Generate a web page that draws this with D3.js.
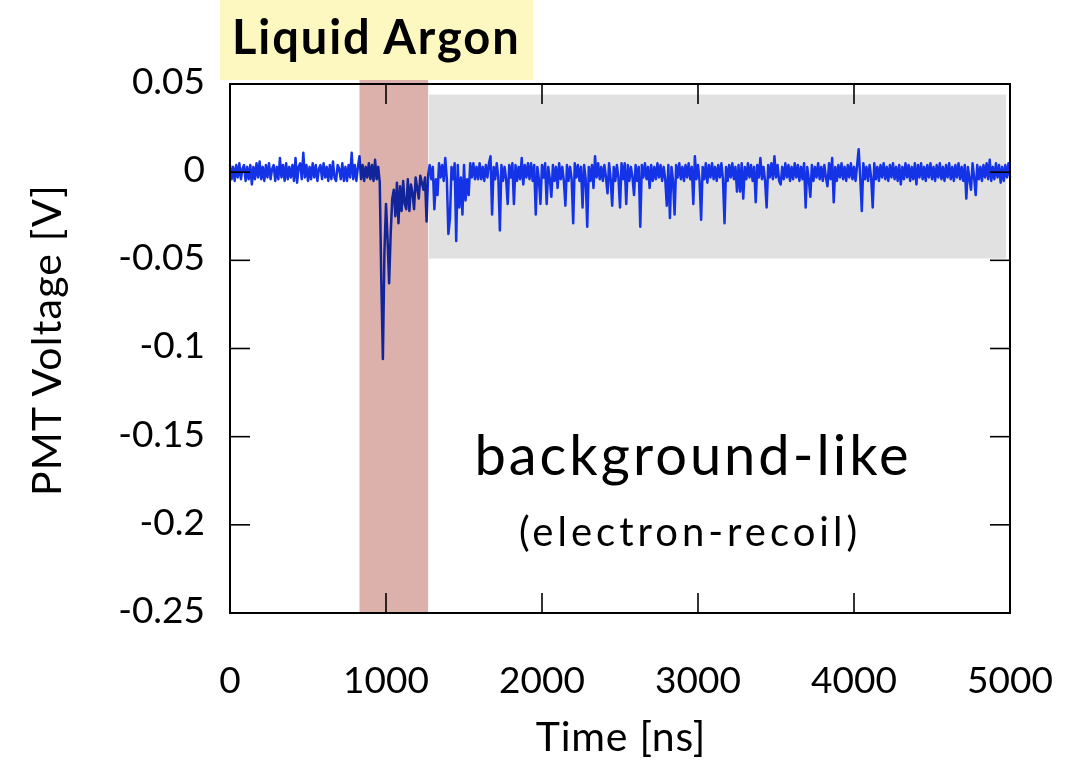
<!DOCTYPE html>
<html>
<head>
<meta charset="utf-8">
<script src="https://cdn.jsdelivr.net/npm/d3@7"></script>
<style>
  html, body { margin: 0; padding: 0; background: #fff; }
  svg { display: block; font-family: Lato, "Open Sans", "DejaVu Sans", sans-serif; }
</style>
</head>
<body>
<svg id="chart" width="1088" height="761"></svg>
<script>
// PMT waveform: one sample every 10 ns, amplitude in millivolts
const sampleStepNs = 10;
const voltageMv = [
  4,-4,3,-5,4,-3,5,-4,2,4,-5,3,-4,4,-7,3,-4,5,-3,6,
  -4,3,-5,4,-3,5,-4,2,4,-5,3,-4,8,-3,4,-5,5,-4,3,-3,
  4,-5,8,-6,3,5,-4,11,-3,4,-5,3,-4,5,-3,4,-5,2,4,-4,
  5,-3,3,-5,4,-4,6,-3,-5,4,2,-4,5,-5,3,-5,4,-3,11,-4,
  4,-5,3,9,-4,4,-5,3,-3,5,-4,4,-5,7,-4,3,-6,-62,-106,-45,
  -18,-38,-63,-35,-15,-10,-25,-6,-29,-8,-22,-5,-18,-21,-4,-22,-7,-12,-21,-3,
  -9,-15,-2,-6,-10,-3,-28,-2,4,-4,3,-21,-4,-13,5,-3,4,-5,8,-4,
  -35,-26,3,-4,5,-39,4,-20,-3,-24,4,-16,-4,-13,5,-3,5,-4,3,-4,
  5,-4,3,-5,4,-3,5,9,-24,3,-4,5,-3,-33,4,-5,3,-4,-18,4,
  -3,5,-18,4,-5,3,-4,8,-7,4,-3,5,-4,5,-5,4,-24,3,-4,-18,
  4,-3,5,-18,3,-4,-14,4,-5,3,-9,5,-4,3,-5,-19,4,-5,3,-4,
  -29,5,-3,4,-5,3,-20,4,-4,-31,3,-5,4,-9,9,-3,5,-4,3,-5,
  4,-3,-12,5,-4,-19,3,-5,4,-3,-20,5,-4,5,-18,4,-5,3,-3,-13,
  4,-5,3,-31,4,-3,5,-4,3,-9,4,-5,3,-4,5,-3,4,-5,3,-4,
  -19,4,-26,3,-5,-24,4,-3,5,-4,3,-5,4,-3,5,-4,3,-18,9,-4,
  4,-5,-27,3,-4,5,-6,4,-3,5,-4,3,-5,4,-3,5,-4,-29,3,-5,
  4,-3,5,-4,3,-11,4,-11,5,-15,3,-4,5,-3,4,-5,3,-17,4,-3,
  8,-4,3,-5,-20,4,-3,5,-4,9,-3,4,-5,-7,3,-4,5,-3,4,-5,
  3,-4,5,-3,4,-5,3,-4,5,-20,3,-4,-14,4,-5,3,-3,5,-4,3,
  -5,4,-3,-8,5,-4,8,-17,3,-5,4,-3,5,-4,3,-5,4,-3,5,-4,
  3,-5,4,13,-3,-22,5,-4,3,-5,4,-3,-20,5,-4,3,-5,4,-3,5,
  -4,3,-5,4,-3,5,-4,3,-5,4,-7,3,-4,5,-3,4,-5,3,-4,5,
  -7,4,-3,5,-4,3,-5,4,-3,5,-4,3,-5,4,-3,5,-4,3,-5,4,
  -3,5,-4,3,-5,4,-3,5,-4,3,-5,4,-15,3,-4,-10,5,-3,-13,4,
  -4,3,-5,4,-3,5,-4,7,-5,3,-4,5,-3,4,-6,3,-5,4,-3,5,
  -3
];

// Axis ticks (time in ns, voltage in mV) and their printed labels
const xTicks = [0, 1000, 2000, 3000, 4000, 5000];
const xTickLabels = ["0", "1000", "2000", "3000", "4000", "5000"];
const yTicks = [50, 0, -50, -100, -150, -200, -250];
const yTickLabels = ["0.05", "0", "-0.05", "-0.1", "-0.15", "-0.2", "-0.25"];

// Highlighted windows
const promptWindowNs = [830, 1270];
const lateWindowNs = [1275, 4975];
const lateWindowMv = [-49, 44];

const svg = d3.select("#chart");
const W = 1088, H = 761;
const plot = { left: 230, right: 1010, top: 84, bottom: 613 };

const x = d3.scaleLinear().domain([0, 5000]).range([plot.left, plot.right]);
const y = d3.scaleLinear().domain([-250, 50]).range([plot.bottom, plot.top]);

svg.append("rect").attr("width", W).attr("height", H).attr("fill", "#fff");

// late-light window (behind the trace)
svg.append("rect")
  .attr("x", x(lateWindowNs[0]))
  .attr("y", y(lateWindowMv[1]))
  .attr("width", x(lateWindowNs[1]) - x(lateWindowNs[0]))
  .attr("height", y(lateWindowMv[0]) - y(lateWindowMv[1]))
  .attr("fill", "#e1e1e1");

// waveform
const samples = voltageMv.map((v, i) => ({ t: i * sampleStepNs, v }));
const line = d3.line().x(d => x(d.t)).y(d => y(d.v));
svg.append("path")
  .datum(samples)
  .attr("d", line)
  .attr("fill", "none")
  .attr("stroke", "#1433e6")
  .attr("stroke-width", 2.5)
  .attr("stroke-linejoin", "round");

// frame
svg.append("rect")
  .attr("x", plot.left).attr("y", plot.top)
  .attr("width", plot.right - plot.left)
  .attr("height", plot.bottom - plot.top)
  .attr("fill", "none").attr("stroke", "#000").attr("stroke-width", 2);

// inward ticks on all four sides
const tickLen = 20;
const ticks = svg.append("g").attr("stroke", "#000").attr("stroke-width", 1.6);
xTicks.forEach(t => {
  ticks.append("line").attr("x1", x(t)).attr("x2", x(t)).attr("y1", plot.bottom).attr("y2", plot.bottom - tickLen);
  ticks.append("line").attr("x1", x(t)).attr("x2", x(t)).attr("y1", plot.top).attr("y2", plot.top + tickLen);
});
yTicks.forEach(v => {
  ticks.append("line").attr("x1", plot.left).attr("x2", plot.left + tickLen).attr("y1", y(v)).attr("y2", y(v));
  ticks.append("line").attr("x1", plot.right).attr("x2", plot.right - tickLen).attr("y1", y(v)).attr("y2", y(v));
});

// prompt window overlay
svg.append("rect")
  .attr("x", x(promptWindowNs[0]))
  .attr("y", 80)
  .attr("width", x(promptWindowNs[1]) - x(promptWindowNs[0]))
  .attr("height", plot.bottom - 80)
  .attr("fill", "#dcb1ab")
  .style("mix-blend-mode", "multiply");

// title box
svg.append("rect").attr("x", 220).attr("y", 0).attr("width", 313).attr("height", 80).attr("fill", "#fdf8c0");
svg.append("text").attr("x", 232).attr("y", 54)
  .attr("font-size", 47).attr("font-weight", 700).attr("fill", "#000")
  .attr("letter-spacing", 1.9)
  .text("Liquid Argon");

// tick labels
svg.append("g").selectAll("text").data(xTicks).join("text")
  .attr("x", d => x(d)).attr("y", 693)
  .attr("text-anchor", "middle").attr("font-size", 37)
  .text((d, i) => xTickLabels[i]);
svg.append("g").selectAll("text").data(yTicks).join("text")
  .attr("x", 205).attr("y", d => y(d) - 3).attr("dy", "0.35em")
  .attr("text-anchor", "end").attr("font-size", 37)
  .text((d, i) => yTickLabels[i]);

// axis titles
svg.append("text").attr("x", 621).attr("y", 751)
  .attr("text-anchor", "middle").attr("font-size", 41).attr("letter-spacing", 0.8)
  .text("Time [ns]");
svg.append("text").attr("transform", "translate(61,340) rotate(-90)")
  .attr("text-anchor", "middle").attr("font-size", 41).attr("letter-spacing", 1.2)
  .text("PMT Voltage [V]");

// annotation
svg.append("text").attr("x", 693).attr("y", 475)
  .attr("text-anchor", "middle").attr("font-size", 56).attr("letter-spacing", 3)
  .text("background-like");
svg.append("text").attr("x", 690).attr("y", 546)
  .attr("text-anchor", "middle").attr("font-size", 40).attr("letter-spacing", 4)
  .text("(electron-recoil)");
</script>
</body>
</html>
